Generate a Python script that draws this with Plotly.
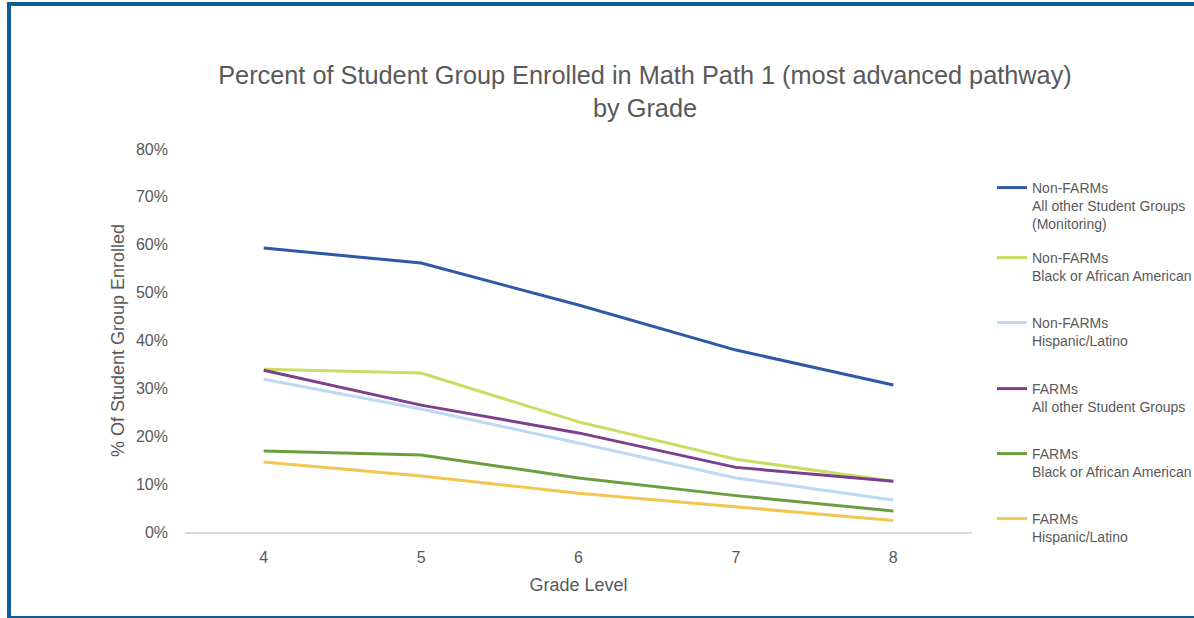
import plotly.graph_objects as go

grades = [4, 5, 6, 7, 8]
names = [
    "Non-FARMs<br>All other Student Groups<br>(Monitoring)",
    "Non-FARMs<br>Black or African American",
    "Non-FARMs<br>Hispanic/Latino",
    "FARMs<br>All other Student Groups",
    "FARMs<br>Black or African American",
    "FARMs<br>Hispanic/Latino",
]
nonfarms_other = [0.593, 0.562, 0.474, 0.380, 0.307]
nonfarms_black = [0.340, 0.332, 0.230, 0.152, 0.106]
nonfarms_hisp = [0.319, 0.257, 0.186, 0.113, 0.067]
farms_other = [0.338, 0.265, 0.207, 0.135, 0.106]
farms_black = [0.169, 0.161, 0.113, 0.076, 0.044]
farms_hisp = [0.146, 0.117, 0.081, 0.053, 0.024]
series = [nonfarms_other, nonfarms_black, nonfarms_hisp, farms_other, farms_black, farms_hisp]
colors = ["#2F58A6", "#CBDC62", "#BED8F3", "#7B3F8C", "#6A9E3E", "#F2C650"]
y_ticks = [0, 0.1, 0.2, 0.3, 0.4, 0.5, 0.6, 0.7, 0.8]

W, H = 1194, 618
L, R, T, B = 185, 972, 149, 532  # plot area pixels

def px(x):
    return (x - L) / (R - L)

def py(y):
    return (B - y) / (B - T)

FONT = "Liberation Sans, Arial, sans-serif"
GRAY = "#595959"

fig = go.Figure()
legend_tops = [187, 257, 322, 388, 453, 518]
layout_legends = {}
for i, (nm, vals, col) in enumerate(zip(names, series, colors)):
    key = "legend" if i == 0 else f"legend{i+1}"
    fig.add_trace(go.Scatter(x=grades, y=vals, mode="lines", name=nm,
                             line=dict(color=col, width=3), legend=key))
    layout_legends[key] = dict(
        x=px(992), y=py(legend_tops[i] - 15), xanchor="left", yanchor="top",
        valign="top", bgcolor="rgba(0,0,0,0)", borderwidth=0,
        font=dict(family=FONT, size=14, color=GRAY), itemwidth=30,
        tracegroupgap=0,
    )

fig.update_layout(
    width=W, height=H,
    margin=dict(l=L, r=W - R, t=T, b=H - B, autoexpand=False),
    paper_bgcolor="white", plot_bgcolor="white",
    font=dict(family=FONT, color=GRAY),
    title=dict(text="Percent of Student Group Enrolled in Math Path 1 (most advanced pathway)<br>by Grade",
               x=px(645), xanchor="center", xref="paper",
               y=1 - 84 / H, yanchor="top", yref="container",
               font=dict(family=FONT, size=25.3, color=GRAY)),
    xaxis=dict(range=[3.5, 8.5], tickvals=grades, ticktext=[str(g) for g in grades],
               showgrid=False, zeroline=False, showline=True, linecolor="#d9d9d9", linewidth=2,
               ticks="", ticklabelstandoff=10,
               tickfont=dict(family=FONT, size=16, color=GRAY),
               title=dict(text="Grade Level", font=dict(family=FONT, size=18, color=GRAY), standoff=13)),
    yaxis=dict(range=[0, 0.8], tickvals=y_ticks, tickformat=".0%",
               showgrid=False, zeroline=False, showline=False, ticks="",
               ticklabelstandoff=16,
               tickfont=dict(family=FONT, size=16, color=GRAY),
               title=dict(text="% Of Student Group Enrolled", font=dict(family=FONT, size=18, color=GRAY), standoff=6)),
    showlegend=True,
    **layout_legends,
)

border = "#0B5C97"
fig.add_shape(type="rect", xref="paper", yref="paper", x0=px(7), x1=px(11), y0=py(618), y1=py(2),
              fillcolor=border, line_width=0, layer="above")
fig.add_shape(type="rect", xref="paper", yref="paper", x0=px(7), x1=px(1194), y0=py(6), y1=py(2),
              fillcolor=border, line_width=0, layer="above")
fig.add_shape(type="rect", xref="paper", yref="paper", x0=px(7), x1=px(1194), y0=py(618), y1=py(616),
              fillcolor=border, line_width=0, layer="above")

fig.write_html("out.html")
